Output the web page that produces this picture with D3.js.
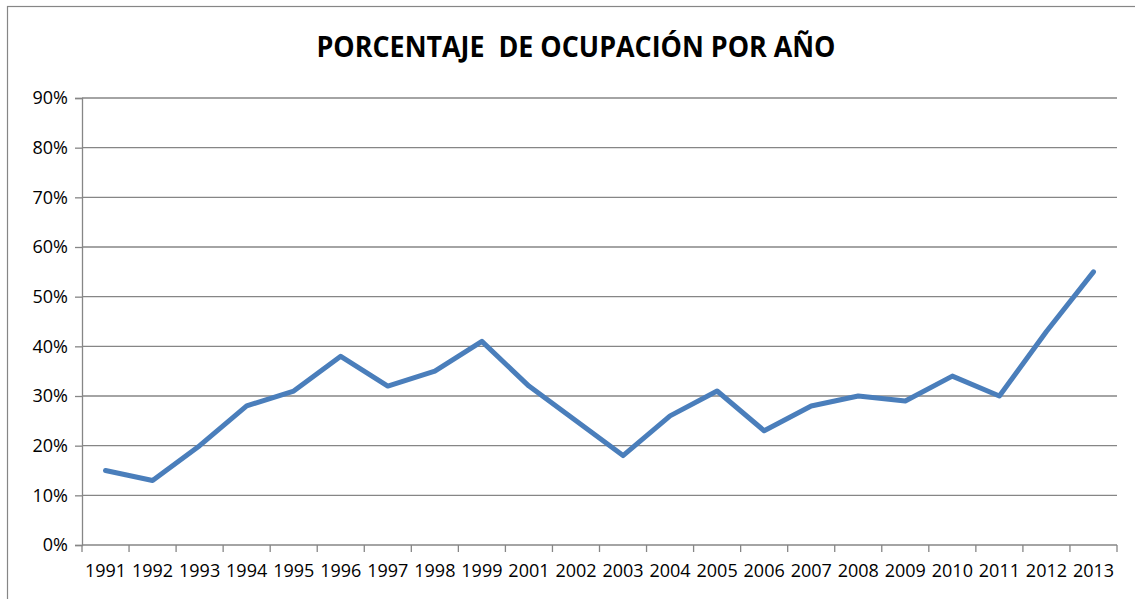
<!DOCTYPE html>
<html>
<head>
<meta charset="utf-8">
<script src="https://cdn.jsdelivr.net/npm/d3@7"></script>
<style>
  body { margin: 0; background: #fff; }
  svg { display: block; }
  .axis text { font-family: "Open Sans", sans-serif; font-size: 18px; fill: #000; }
</style>
</head>
<body>
<div id="chart"></div>
<script>
// Data______________________________________________________
const years = ['1991', '1992', '1993', '1994', '1995', '1996', '1997', '1998', '1999', '2001', '2002',
    '2003', '2004', '2005', '2006', '2007', '2008', '2009', '2010', '2011', '2012', '2013'];
const ocupacion = [0.15, 0.13, 0.20, 0.28, 0.31, 0.38, 0.32, 0.35, 0.41, 0.32, 0.25,
    0.18, 0.26, 0.31, 0.23, 0.28, 0.30, 0.29, 0.34, 0.30, 0.43, 0.55];
const yTicks = [0, 0.1, 0.2, 0.3, 0.4, 0.5, 0.6, 0.7, 0.8, 0.9];
const title = 'PORCENTAJE\u00a0 DE OCUPACIÓN POR AÑO';

// Sizes____________________________________________________
const width = 1135;
const height = 599;
const margin = { top: 98, right: 18, bottom: 54, left: 82 };
const gridColor = '#868686';

const svg = d3.select('#chart')
    .append('svg')
    .attr('width', width)
    .attr('height', height);

// chart border (right and bottom edges fall outside the picture)
svg.append('rect')
    .attr('x', 7.5)
    .attr('y', 6.5)
    .attr('width', width + 10)
    .attr('height', height + 10)
    .attr('fill', 'none')
    .attr('stroke', gridColor)
    .attr('stroke-width', 1.2);

const x = d3.scaleBand()
    .domain(years)
    .range([margin.left, width - margin.right]);

const y = d3.scaleLinear()
    .domain([0, 0.9])
    .range([height - margin.bottom, margin.top]);

// Title_____________________________________________________
svg.append('text')
    .attr('x', 576)
    .attr('y', 57)
    .attr('text-anchor', 'middle')
    .attr('textLength', 519)
    .attr('lengthAdjust', 'spacingAndGlyphs')
    .style('font-family', '"Open Sans", sans-serif')
    .style('font-weight', 700)
    .style('font-size', '29px')
    .text(title);

// Y axis + gridlines________________________________________
const yAxis = svg.append('g')
    .attr('class', 'axis')
    .attr('transform', `translate(${margin.left},0)`)
    .call(d3.axisLeft(y)
        .tickValues(yTicks)
        .tickFormat(d3.format('.0%'))
        .tickSize(7)
        .tickPadding(7));

yAxis.select('.domain').attr('stroke', gridColor).attr('stroke-width', 1.3);
yAxis.selectAll('.tick line').attr('stroke', gridColor).attr('stroke-width', 1.3);

svg.append('g')
    .selectAll('line')
    .data(yTicks.slice(1))
    .enter()
    .append('line')
    .attr('x1', margin.left)
    .attr('x2', width - margin.right)
    .attr('y1', d => y(d))
    .attr('y2', d => y(d))
    .attr('stroke', gridColor)
    .attr('stroke-width', 1.3);

// X axis____________________________________________________
const xAxis = svg.append('g')
    .attr('class', 'axis')
    .attr('transform', `translate(0,${y(0)})`)
    .call(d3.axisBottom(x).tickSize(0).tickPadding(19));

xAxis.select('.domain').remove();

// category boundary ticks
const bounds = years.map(d => x(d)).concat([x.range()[1]]);
xAxis.selectAll('.bound')
    .data(bounds)
    .enter()
    .append('line')
    .attr('class', 'bound')
    .attr('x1', d => d)
    .attr('x2', d => d)
    .attr('y1', 0)
    .attr('y2', 7)
    .attr('stroke', gridColor)
    .attr('stroke-width', 1.3);

xAxis.append('line')
    .attr('x1', x.range()[0])
    .attr('x2', x.range()[1])
    .attr('stroke', gridColor)
    .attr('stroke-width', 1.3);

// Line______________________________________________________
const line = d3.line()
    .x((d, i) => x(years[i]) + x.bandwidth() / 2)
    .y(d => y(d));

svg.append('path')
    .datum(ocupacion)
    .attr('d', line)
    .attr('fill', 'none')
    .attr('stroke', '#4a7ebb')
    .attr('stroke-width', 5)
    .attr('stroke-linejoin', 'round')
    .attr('stroke-linecap', 'round');
</script>
</body>
</html>
